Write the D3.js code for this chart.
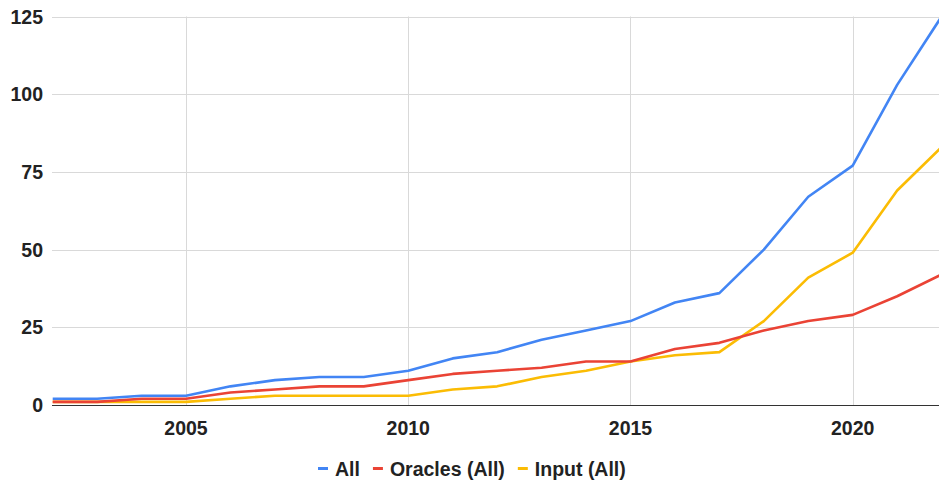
<!DOCTYPE html>
<html><head><meta charset="utf-8">
<script src="https://cdn.jsdelivr.net/npm/d3@7"></script>
<style>body{margin:0;background:#fff}svg{display:block}text{font-family:Arial,"Liberation Sans",sans-serif}</style>
</head><body><svg id="c" width="939" height="483"></svg>
<script>
const years = d3.range(2002, 2023);
const allSeries = [2,2,3,3,6,8,9,9,11,15,17,21,24,27,33,36,50,67,77,103,125];
const oracles = [1,1,2,2,4,5,6,6,8,10,11,12,14,14,18,20,24,27,29,35,42];
const input = [1,1,1,1,2,3,3,3,3,5,6,9,11,14,16,17,27,41,49,69,83];
const seriesNames = ["All","Oracles (All)","Input (All)"];
const colors = ["#4285F4","#EA4335","#FBBC04"];
const yTicks = [0,25,50,75,100,125];
const xTicks = [2005,2010,2015,2020];

const svg = d3.select("#c");
const x = d3.scaleLinear().domain([2002,2022]).range([52.7,941.6]);
const y = d3.scaleLinear().domain([0,125]).range([405,16.5]);
const L = 52, R = 939;
const FS = 19.5;

svg.append("g").selectAll("line").data(yTicks.filter(d=>d>0)).join("line")
  .attr("x1",L).attr("x2",R).attr("y1",d=>Math.round(y(d))+0.5).attr("y2",d=>Math.round(y(d))+0.5)
  .attr("stroke","#d9d9d9").attr("stroke-width",1);
svg.append("g").selectAll("line").data(xTicks).join("line")
  .attr("x1",d=>Math.round(x(d))+0.5).attr("x2",d=>Math.round(x(d))+0.5).attr("y1",y(125)).attr("y2",y(0))
  .attr("stroke","#d9d9d9").attr("stroke-width",1);

svg.append("g").selectAll("text").data(yTicks).join("text")
  .attr("x",43).attr("y",d=>y(d)).attr("dy","0.36em").attr("text-anchor","end")
  .attr("font-size",FS).attr("font-weight","bold").attr("fill","#222").text(d=>d);
svg.append("g").selectAll("text").data(xTicks).join("text")
  .attr("x",d=>x(d)).attr("y",434.5).attr("text-anchor","middle")
  .attr("font-size",FS).attr("font-weight","bold").attr("fill","#222").text(d=>d);

const line = d3.line().x((d,i)=>x(years[i])).y(d=>y(d));
const data = [allSeries, oracles, input];
svg.append("defs").append("clipPath").attr("id","clip").append("rect")
  .attr("x",L).attr("y",0).attr("width",R-L).attr("height",483);
const g = svg.append("g").attr("clip-path","url(#clip)");
[2,1,0].forEach(k=>{
  g.append("path").attr("d",line(data[k])).attr("fill","none")
   .attr("stroke",colors[k]).attr("stroke-width",2.6).attr("stroke-linejoin","round");
});

svg.append("line").attr("x1",L).attr("x2",R).attr("y1",405.5).attr("y2",405.5)
  .attr("stroke","#333").attr("stroke-width",1);

const lg = svg.append("g");
let cx = 318;
seriesNames.forEach((n,i)=>{
  lg.append("line").attr("x1",cx).attr("x2",cx+10).attr("y1",468.5).attr("y2",468.5)
    .attr("stroke",colors[i]).attr("stroke-width",3);
  const t = lg.append("text").attr("x",cx+17).attr("y",475.5).attr("font-size",FS)
    .attr("font-weight","bold").attr("fill","#222").text(n);
  cx = cx + 17 + t.node().getComputedTextLength() + 13;
});
</script></body></html>
